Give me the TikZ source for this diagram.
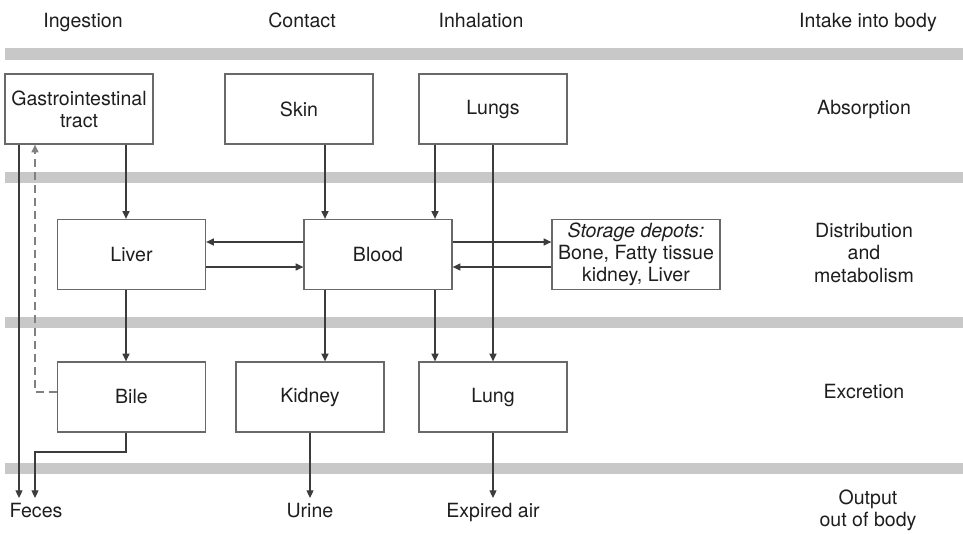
\documentclass[tikz,border=0pt]{standalone}
\usepackage{fontspec}
\setmainfont{TeX Gyre Heros}
\usepackage{tikz}
\usetikzlibrary{arrows.meta,shapes}

\begin{document}
\begin{tikzpicture}[x=0.03cm,y=-0.03cm,font=\fontsize{16.7}{18.8}\selectfont]
		
		\definecolor{bandgray}{RGB}{200,200,200}
		\definecolor{boxgray}{RGB}{105,105,105}
		\definecolor{linegray}{RGB}{60,60,60}
		\definecolor{textgray}{RGB}{30,30,30}
		
		\useasboundingbox (0,0) rectangle (963,533);
		
		% gray bands between the stages
		\foreach \y in {54,177.5,322.5,468.5}
			\fill[bandgray] (5,\y-5.75) rectangle (963,\y+5.75);
		
		\tikzstyle{edge} = [draw=linegray,line width=1pt,-{Triangle[length=0.23cm,width=0.21cm]}]
		\tikzset{label/.style = {text=textgray,align=center,inner sep=0pt}}
		\tikzset{headlabel/.style = {text=textgray,anchor=base,inner sep=0pt}}
		\tikzset{outlabel/.style = {text=textgray,anchor=north,inner sep=0pt,outer sep=0.15cm}}
		\tikzset{organ/.style = {shape=rectangle,draw=boxgray,line width=1.1pt,text=textgray,align=center,minimum width=4.44cm,minimum height=2.1cm,inner sep=0pt}}
		
		% routes of intake and stages
		\node[headlabel] (ingestion) at (83,27) {Ingestion};
		\node[headlabel] (contact) at (302,27) {Contact};
		\node[headlabel] (inhalation) at (481,27) {Inhalation};
		\node[headlabel] (intake) at (868,27) {Intake into body};
		\node[headlabel] (absorption) at (864,114) {Absorption};
		\node[label] (distribution) at (864,253) {Distribution\\and\\metabolism};
		\node[headlabel] (excretion) at (864,398) {Excretion};
		\node[label] (output) at (868,510.5) {Output\\out of body};
		
		\node[organ] (gi) at (79,109) {Gastrointestinal\\tract};
		\node[organ] (skin) at (299,109) {Skin};
		\node[organ] (lungs) at (493,109) {Lungs};
		
		\node[organ] (liver) at (131.5,254.5) {Liver};
		\node[organ] (blood) at (378,254.5) {Blood};
		\node[organ, minimum width=5.04cm] (depot) at (636,254.5) {\textit{Storage depots:}\\Bone, Fatty tissue\\kidney, Liver};
		
		\node[organ] (bile) at (131.5,397) {Bile};
		\node[organ] (kidney) at (310,397) {Kidney};
		\node[organ] (lung) at (493,397) {Lung};
		
		\node[outlabel] (feces) at (36,498) {Feces};
		\node[outlabel] (urine) at (310,498) {Urine};
		\node[outlabel] (expired) at (493,498) {Expired air};
		
		% columns and rows for the connectors
		\coordinate (cA) at (19,0);
		\coordinate (cB) at (35,0);
		\coordinate (cC) at (126,0);
		\coordinate (cD) at (325,0);
		\coordinate (cF) at (435,0);
		\coordinate (r1) at (0,242);
		\coordinate (r2) at (0,267);
		\coordinate (r3) at (0,392);
		\coordinate (r4) at (0,452);
		
		\draw[edge] (gi.south -| cC) to (liver.north -| cC);
		\draw[edge] (skin.south -| cD) to (blood.north -| cD);
		\draw[edge] (lungs.south -| cF) to (blood.north -| cF);
		\draw[edge] (lungs.south) to (lung.north);
		\draw[edge] (blood.west |- r1) to (liver.east |- r1);
		\draw[edge] (liver.east |- r2) to (blood.west |- r2);
		\draw[edge] (blood.east |- r1) to (depot.west |- r1);
		\draw[edge] (depot.west |- r2) to (blood.east |- r2);
		\draw[edge] (liver.south -| cC) to (bile.north -| cC);
		\draw[edge] (blood.south -| cD) to (kidney.north -| cD);
		\draw[edge] (blood.south -| cF) to (lung.north -| cF);
		\draw[edge] (gi.south -| cA) to (feces.north -| cA);
		\draw[edge] (bile.south -| cC) |- (r4 -| cB) -- (feces.north -| cB);
		\draw[edge, draw=gray, dash pattern=on 0.24cm off 0.15cm] (bile.west |- r3) -| (gi.south -| cB);
		\draw[edge] (kidney.south) to (urine.north);
		\draw[edge] (lung.south) to (expired.north);
		\end{tikzpicture}
\end{document}
